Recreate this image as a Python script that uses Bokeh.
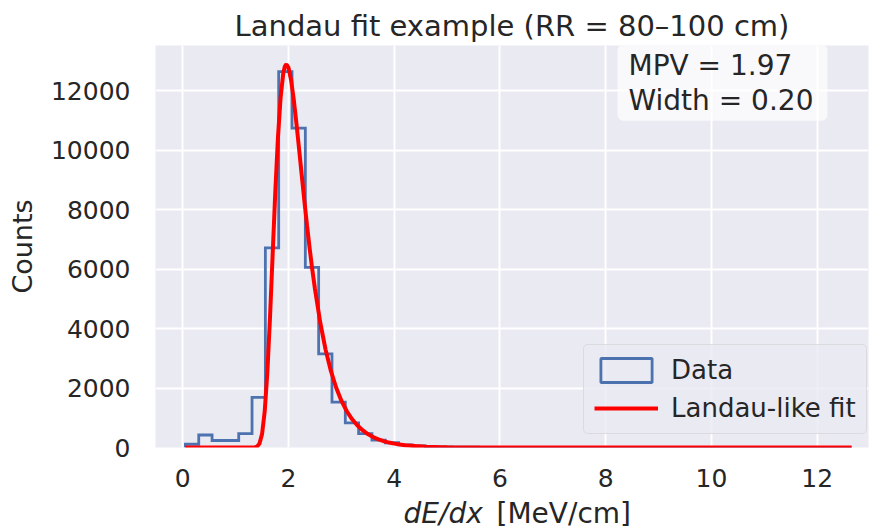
import numpy as np
from bokeh.plotting import figure
from bokeh.layouts import column
from bokeh.models import Range1d, Label, Legend, LegendItem, FixedTicker
from bokeh.embed import file_html
from bokeh.resources import INLINE

# ---------------- data ----------------
TITLE = "Landau fit example (RR = 80–100 cm)"
X_LABEL_ITALIC = "dE/dx"
X_LABEL_UNIT = "[MeV/cm]"
Y_LABEL = "Counts"
LEGEND_LABELS = ["Data", "Landau-like fit"]

BIN_LO, BIN_HI, N_BINS = 0.05, 12.65, 50
COUNTS = [110, 420, 235, 235, 470, 1690, 6720, 12650, 10750, 6060,
          3150, 1530, 830, 470, 250, 160, 90, 55, 30, 20,
          12, 8, 5, 3, 2, 1, 0, 0, 0, 0,
          0, 0, 0, 0, 0, 0, 0, 0, 0, 0,
          0, 0, 0, 0, 0, 0, 0, 0, 0, 0]

FIT_X = [0.05, 0.5, 1.0, 1.2, 1.30, 1.35, 1.40, 1.45, 1.50, 1.55,
         1.60, 1.65, 1.70, 1.75, 1.80, 1.85, 1.90, 1.93, 1.96, 2.00,
         2.05, 2.10, 2.15, 2.20, 2.25, 2.30, 2.35, 2.40, 2.45, 2.50,
         2.60, 2.70, 2.80, 2.90, 3.00, 3.10, 3.20, 3.30, 3.40, 3.50,
         3.60, 3.70, 3.80, 3.90, 4.00, 4.20, 4.40, 4.60, 4.80, 5.00,
         5.50, 6.00, 7.00, 12.65]
FIT_Y = [0, 0, 0, 0, 0, 3, 23, 126, 459, 1219,
         2540, 4378, 6505, 8614, 10429, 11771, 12583, 12826, 12900, 12781,
         12348, 11694, 10901, 10041, 9161, 8298, 7472, 6698, 5985, 5333,
         4207, 3303, 2584, 2019, 1576, 1229, 957, 746, 581, 453,
         352, 274, 214, 166, 130, 79, 48, 29, 18, 11,
         3, 1, 0, 0]

MPV = 1.97
WIDTH = 0.20

X_TICKS = [0, 2, 4, 6, 8, 10, 12]
Y_TICKS = [0, 2000, 4000, 6000, 8000, 10000, 12000]

# ---------------- style ----------------
FONT = "DejaVu Sans"
TXT = "#262626"
BLUE = "#4C72B0"
RED = "#FF0000"

edges = np.linspace(BIN_LO, BIN_HI, N_BINS + 1)
step_x = np.repeat(edges, 2)
step_y = np.concatenate([[0], np.repeat(np.array(COUNTS, dtype=float), 2), [0]])

p = figure(width=870, height=497, output_backend="svg", toolbar_location=None,
           x_range=Range1d(-0.516, 12.97), y_range=Range1d(0, 13530),
           min_border_left=155, min_border_right=2, min_border_top=45,
           min_border_bottom=50,
           background_fill_color="#EAEAF2", border_fill_color="white",
           outline_line_color=None)

p.title.text = TITLE
p.title.text_font = FONT
p.title.text_font_size = "29px"
p.title.text_font_style = "normal"
p.title.text_color = TXT
p.title.align = "center"
p.title.offset = 4
p.title.standoff = 5

p.grid.grid_line_color = "white"
p.grid.grid_line_width = 2
p.xaxis.ticker = FixedTicker(ticks=X_TICKS)
p.yaxis.ticker = FixedTicker(ticks=Y_TICKS)
for ax in (p.xaxis, p.yaxis):
    ax.axis_line_color = None
    ax.major_tick_line_color = None
    ax.minor_tick_line_color = None
    ax.major_tick_out = 0
    ax.major_tick_in = 0
    ax.minor_tick_out = 0
    ax.major_label_text_font = FONT
    ax.major_label_text_font_size = "25px"
    ax.major_label_text_color = TXT
p.yaxis.major_label_standoff = 25
p.xaxis.major_label_standoff = 21

p.yaxis.axis_label = Y_LABEL
p.yaxis.axis_label_text_font = FONT
p.yaxis.axis_label_text_font_size = "27px"
p.yaxis.axis_label_text_font_style = "normal"
p.yaxis.axis_label_text_color = TXT
p.yaxis.axis_label_standoff = 10

hist = p.line(step_x, step_y, line_color=BLUE, line_width=2.8, line_join="miter")
proxy = p.quad(left=[edges[0]], right=[edges[-1]], bottom=[0], top=[max(COUNTS)],
               fill_color=None, line_color=BLUE, line_width=2.8)
proxy.visible = False
fit = p.line(FIT_X, FIT_Y, line_color=RED, line_width=4)

legend = Legend(items=[LegendItem(label=LEGEND_LABELS[0], renderers=[proxy]),
                       LegendItem(label=LEGEND_LABELS[1], renderers=[fit])],
                location=(428, 13),
                label_text_font=FONT, label_text_font_size="26px",
                label_text_color=TXT,
                glyph_width=64, glyph_height=30, label_height=30,
                label_standoff=13, spacing=8, padding=10, margin=0,
                background_fill_color="#EAEAF2", background_fill_alpha=0.8,
                border_line_color="#CCCCCC", border_line_width=1.5)
if "border_radius" in Legend.properties():
    legend.border_radius = 5
p.add_layout(legend)

box_kw = dict(x_units="screen", y_units="screen", text_font=FONT,
              text_color=TXT, text_font_size="28px",
              text=f"MPV = {MPV:.2f}\nWidth = {WIDTH:.2f}", x=462, y=403,
              text_align="left", text_baseline="top", text_line_height=1.07,
              background_fill_color="white", background_fill_alpha=0.7,
              padding=(11, 14, 4, 4))
if "border_radius" in Label.properties():
    box_kw["border_radius"] = 6
p.add_layout(Label(**box_kw))

# x-axis label strip (mixed italic / upright text)
p2 = figure(width=870, height=32, output_backend="svg", toolbar_location=None,
            title=None, x_axis_type=None, y_axis_type=None,
            x_range=Range1d(0, 1), y_range=Range1d(0, 1),
            min_border=0, min_border_left=0, min_border_right=0,
            min_border_top=0, min_border_bottom=0,
            outline_line_color=None, background_fill_color="white",
            border_fill_color="white")
p2.grid.visible = False
x_off = 0
if "frame_align" in p2.properties():
    p.frame_align = False
    p2.frame_align = False
else:
    x_off = 155
p2.add_layout(Label(x=403 - x_off, y=16.5, x_units="screen", y_units="screen",
                    text=X_LABEL_ITALIC, text_font=FONT, text_font_size="28px",
                    text_font_style="italic", text_color=TXT,
                    text_align="left", text_baseline="alphabetic"))
p2.add_layout(Label(x=496 - x_off, y=16.5, x_units="screen", y_units="screen",
                    text=X_LABEL_UNIT, text_font=FONT, text_font_size="28px",
                    text_color=TXT, text_align="left", text_baseline="alphabetic"))

layout = column(p, p2, spacing=0)
open("out.html", "w").write(file_html(layout, INLINE))
